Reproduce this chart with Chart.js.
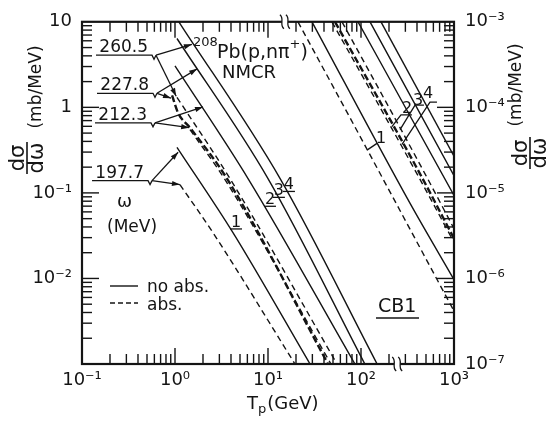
<!DOCTYPE html>
<html>
<head>
<meta charset="utf-8">
<script src="https://cdn.jsdelivr.net/npm/chart.js@4.4.0/dist/chart.umd.min.js"></script>
<style>
  html, body { margin: 0; padding: 0; background: #fff; }
</style>
</head>
<body>
<canvas id="canvas-grafico-omega" width="546" height="423"></canvas>
<script>
const INK = "#141414";
const FAMILY = '"DejaVu Sans", sans-serif';

// axis ticks
const xTicks = [0.1, 1, 10, 100, 1000];
const xTickLabels = ["10⁻¹", "10⁰", "10¹", "10²", "10³"];
const yTicks = [0.001, 0.01, 0.1, 1, 10];
const yTickLabels = ["", "10⁻²", "10⁻¹", "1", "10"];
const y2Ticks = [1e-7, 1e-6, 1e-5, 1e-4, 1e-3];
const y2TickLabels = ["10⁻⁷", "10⁻⁶", "10⁻⁵", "10⁻⁴", "10⁻³"];

// photon energies (MeV), curves 1..4
const omegas = ["197.7", "212.3", "227.8", "260.5"];
const curveNums = ["1", "2", "3", "4"];

// left family: T_p (GeV) -> dσ/dω (mb/MeV), left axis
const tpNoAbs1 = [1.05, 4.2, 28.3];   const dsNoAbs1 = [0.341, 0.0343, 0.001];
const tpNoAbs2 = [1.0, 6.1, 86];      const dsNoAbs2 = [3.05, 0.147, 0.001];
const tpNoAbs3 = [1.05, 10.0, 110];   const dsNoAbs3 = [6.38, 0.147, 0.001];
const tpNoAbs4 = [1.1, 13.5, 149];    const dsNoAbs4 = [10, 0.147, 0.001];
const tpAbs1 = [1.13, 2.56, 19.5];    const dsAbs1 = [0.125, 0.0343, 0.001];
const tpAbs2 = [1.45, 3.45, 47.5];    const dsAbs2 = [0.548, 0.143, 0.001];
const tpAbs3 = [0.93, 1.08, 1.45, 3.62, 44.2];
const dsAbs3 = [1.38, 0.86, 0.578, 0.147, 0.001];
const tpAbs4 = [1.05, 3.9, 55.2];     const dsAbs4 = [1.31, 0.147, 0.001];

// right family: right axis (mb/MeV)
const tpNoAbs1R = [29.7, 336, 1000];  const dsNoAbs1R = [1e-3, 7.58e-6, 9.68e-7];
const tpNoAbs2R = [92.9, 1000];       const dsNoAbs2R = [1e-3, 9.35e-6];
const tpNoAbs3R = [125, 1000];        const dsNoAbs3R = [1e-3, 1.59e-5];
const tpNoAbs4R = [164, 1000];        const dsNoAbs4R = [1e-3, 2.69e-5];
const tpAbs1R = [21.0, 116, 1000];    const dsAbs1R = [1e-3, 3.24e-5, 4.16e-7];
const tpAbs2R = [48.7, 410, 975];     const dsAbs2R = [1e-3, 1.59e-5, 2.78e-6];
const tpAbs3R = [52.5, 431, 1000];    const dsAbs3R = [1e-3, 1.67e-5, 2.93e-6];
const tpAbs4R = [62.5, 488, 1000];    const dsAbs4R = [1e-3, 1.67e-5, 3.82e-6];

// ω label leaders (left axis units): notch, arrow to no abs., arrow to abs.
const notchT = [0.513, 0.552, 0.58, 0.566];  const notchY = [0.139, 0.659, 1.46, 4.07];
const upT = [1.08, 2.0, 1.73, 1.52];         const upY = [0.299, 1.01, 2.82, 5.45];
const lowT = [1.13, 1.42, 0.906, 1.03];      const lowY = [0.125, 0.578, 1.28, 1.35];

// curve numbers, left family (left axis) and right family (right axis)
const numT = [4.53, 10.5, 13.1, 16.8];       const numY = [0.047, 0.0865, 0.11, 0.129];
const numTR = [164, 313, 410, 525];          const numYR = [4.45e-5, 1.01e-4, 1.24e-4, 1.53e-4];
const leaderTR = [[148.6, 116], [353, 269, 215], [475, 381, 263], [656, 552, 276]];
const leaderYR = [[3.79e-5, 3.16e-5], [8.15e-5, 8.15e-5, 5.94e-5], [1.06e-4, 1.06e-4, 5.48e-5], [1.15e-4, 1.15e-4, 3.69e-5]];

// axis breaks (T_p, GeV)
const breakTop = 15.2;
const breakBottom = 245;

const font = (size) => size + "px " + FAMILY;

function curve(tp, ds, axis, dash, width) {
  return {
    data: tp.map((t, i) => ({ x: t, y: ds[i] })),
    yAxisID: axis,
    borderColor: INK,
    borderWidth: width || 1.4,
    borderDash: dash || [],
    pointRadius: 0,
    cubicInterpolationMode: "monotone",
    fill: false,
  };
}

const DASH = [6, 4];

const decorations = {
  id: "decorations",
  afterDraw(chart) {
    const ctx = chart.ctx;
    const a = chart.chartArea;
    const sx = chart.scales.x, sy = chart.scales.y, sy2 = chart.scales.y2;
    const P = (t, v) => [sx.getPixelForValue(t), sy.getPixelForValue(v)];
    const P2 = (t, v) => [sx.getPixelForValue(t), sy2.getPixelForValue(v)];
    const line = (x0, y0, x1, y1) => { ctx.beginPath(); ctx.moveTo(x0, y0); ctx.lineTo(x1, y1); ctx.stroke(); };
    const arrow = (x0, y0, x1, y1) => {
      line(x0, y0, x1, y1);
      const ang = Math.atan2(y1 - y0, x1 - x0), L = 8, W = 2.6;
      const c = Math.cos(ang), s = Math.sin(ang);
      ctx.beginPath();
      ctx.moveTo(x1, y1);
      ctx.lineTo(x1 - L * c + W * s, y1 - L * s - W * c);
      ctx.lineTo(x1 - L * c - W * s, y1 - L * s + W * c);
      ctx.closePath();
      ctx.fill();
    };

    ctx.save();
    ctx.strokeStyle = INK;
    ctx.fillStyle = INK;

    // inward ticks
    ctx.lineWidth = 1.4;
    for (let e = -1; e <= 2; e++) {
      for (let m = 1; m <= 9; m++) {
        const px = sx.getPixelForValue(m * Math.pow(10, e));
        const len = m === 1 ? 16 : 10;
        line(px, a.bottom, px, a.bottom - len);
        line(px, a.top, px, a.top + len);
      }
    }
    for (let e = -3; e <= 0; e++) {
      for (let m = 1; m <= 9; m++) {
        const py = sy.getPixelForValue(m * Math.pow(10, e));
        line(a.left, py, a.left + (m === 1 ? 17 : 10), py);
      }
    }
    for (let e = -7; e <= -4; e++) {
      for (let m = 1; m <= 9; m++) {
        const py = sy2.getPixelForValue(m * Math.pow(10, e));
        line(a.right, py, a.right - (m === 1 ? 17 : 10), py);
      }
    }

    // frame
    ctx.lineWidth = 2.2;
    ctx.strokeRect(a.left, a.top, a.right - a.left, a.bottom - a.top);

    // axis breaks
    const brk = (px, py) => {
      ctx.fillStyle = "#fff";
      ctx.fillRect(px - 3, py - 2, 6, 4);
      ctx.fillStyle = INK;
      ctx.lineWidth = 1.3;
      for (const dx of [-3, 3]) {
        ctx.beginPath();
        ctx.moveTo(px + dx - 2, py - 7);
        ctx.bezierCurveTo(px + dx + 3, py - 3, px + dx - 3, py + 3, px + dx + 2, py + 7);
        ctx.stroke();
      }
    };
    brk(sx.getPixelForValue(breakTop), a.top);
    brk(sx.getPixelForValue(breakBottom), a.bottom);

    // ω labels with leaders
    ctx.lineWidth = 1.3;
    ctx.font = font(17);
    ctx.textAlign = "right";
    ctx.textBaseline = "alphabetic";
    omegas.forEach((w, i) => {
      const [nx, ny] = P(notchT[i], notchY[i]);
      ctx.fillText(w, nx - 4, ny - 3);
      ctx.beginPath();
      ctx.moveTo(nx - 56, ny);
      ctx.lineTo(nx, ny);
      ctx.lineTo(nx + 2, ny + 4);
      ctx.lineTo(nx + 4, ny);
      ctx.stroke();
      arrow(nx + 4, ny, ...P(upT[i], upY[i]));
      arrow(nx + 4, ny, ...P(lowT[i], lowY[i]));
    });

    // curve numbers
    ctx.font = font(16);
    ctx.textAlign = "center";
    curveNums.forEach((n, i) => {
      const [px, py] = P(numT[i], numY[i]);
      ctx.fillText(n, px, py + 6);
      line(px - 6, py + 8, px + 6, py + 8);
      const [qx, qy] = P2(numTR[i], numYR[i]);
      ctx.fillText(n, qx, qy + 6);
      const pts = leaderTR[i].map((t, k) => P2(t, leaderYR[i][k]));
      ctx.beginPath();
      pts.forEach((p, k) => (k ? ctx.lineTo(p[0], p[1]) : ctx.moveTo(p[0], p[1])));
      ctx.stroke();
    });

    // reaction label
    ctx.textAlign = "left";
    ctx.font = font(13);
    ctx.fillText("208", 193, 46);
    ctx.font = font(19);
    ctx.fillText("Pb(p,nπ", 217, 58);
    let w = ctx.measureText("Pb(p,nπ").width;
    ctx.font = font(13);
    ctx.fillText("+", 217 + w, 48);
    w += ctx.measureText("+").width;
    ctx.font = font(19);
    ctx.fillText(")", 217 + w, 58);
    ctx.font = font(18);
    ctx.fillText("NMCR", 222, 78);

    // ω unit
    ctx.font = font(18);
    ctx.fillText("ω", 117, 207);
    ctx.font = font(17);
    ctx.fillText("(MeV)", 107, 232);

    // legend
    ctx.lineWidth = 1.4;
    line(110, 286, 138, 286);
    ctx.setLineDash([5, 3]);
    line(110, 303, 138, 303);
    ctx.setLineDash([]);
    ctx.font = font(17);
    ctx.fillText("no abs.", 147, 292);
    ctx.fillText("abs.", 147, 310);

    // CB1
    ctx.font = font(19);
    ctx.fillText("CB1", 378, 312);
    line(376, 318, 419, 318);

    // x title
    ctx.font = font(18);
    ctx.fillText("T", 247, 409);
    let tw = ctx.measureText("T").width;
    ctx.font = font(13);
    ctx.fillText("p", 247 + tw, 413);
    tw += ctx.measureText("p").width;
    ctx.font = font(18);
    ctx.fillText("(GeV)", 247 + tw + 1, 409);

    // y titles (rotated)
    const vtext = (txt, cx, cy, f) => {
      ctx.save();
      ctx.translate(cx, cy);
      ctx.rotate(-Math.PI / 2);
      ctx.font = f;
      ctx.textAlign = "center";
      ctx.textBaseline = "middle";
      ctx.fillText(txt, 0, 0);
      ctx.restore();
    };
    const vfrac = (cx, cy) => {
      ctx.save();
      ctx.translate(cx, cy);
      ctx.rotate(-Math.PI / 2);
      ctx.font = font(21);
      ctx.textAlign = "center";
      ctx.textBaseline = "alphabetic";
      ctx.fillText("dσ", 0, -3);
      ctx.fillText("dω", 0, 16);
      ctx.lineWidth = 1.6;
      line(-16, 0, 16, 0);
      ctx.restore();
    };
    vfrac(27, 158);
    vtext("(mb/MeV)", 37, 87, font(17));
    vfrac(530, 153);
    vtext("(mb/MeV)", 517, 85, font(17));

    ctx.restore();
  },
};

new Chart(document.getElementById("canvas-grafico-omega"), {
  type: "line",
  plugins: [decorations],
  data: {
    datasets: [
      curve(tpNoAbs1, dsNoAbs1, "y"),
      curve(tpNoAbs2, dsNoAbs2, "y"),
      curve(tpNoAbs3, dsNoAbs3, "y"),
      curve(tpNoAbs4, dsNoAbs4, "y"),
      curve(tpAbs1, dsAbs1, "y", DASH),
      curve(tpAbs2, dsAbs2, "y", DASH),
      curve(tpAbs3, dsAbs3, "y", [7, 3], 2.4),
      curve(tpAbs4, dsAbs4, "y", DASH),
      curve(tpNoAbs1R, dsNoAbs1R, "y2"),
      curve(tpNoAbs2R, dsNoAbs2R, "y2"),
      curve(tpNoAbs3R, dsNoAbs3R, "y2"),
      curve(tpNoAbs4R, dsNoAbs4R, "y2"),
      curve(tpAbs1R, dsAbs1R, "y2", DASH),
      curve(tpAbs2R, dsAbs2R, "y2", DASH),
      curve(tpAbs3R, dsAbs3R, "y2", [7, 3], 2.4),
      curve(tpAbs4R, dsAbs4R, "y2", DASH),
    ],
  },
  options: {
    responsive: false,
    animation: false,
    devicePixelRatio: 1,
    layout: { padding: { top: 15 } },
    plugins: {
      legend: { display: false },
      tooltip: { enabled: false },
    },
    scales: {
      x: {
        type: "logarithmic",
        position: "bottom",
        min: 0.1,
        max: 1000,
        afterBuildTicks: (s) => { s.ticks = xTicks.map((v) => ({ value: v })); },
        afterFit: (s) => { s.height = 59; },
        grid: { display: false, drawTicks: false },
        border: { display: false },
        ticks: {
          autoSkip: false,
          maxRotation: 0,
          padding: 6,
          color: INK,
          font: { family: FAMILY, size: 18 },
          callback: (v, i) => xTickLabels[i],
        },
      },
      y: {
        type: "logarithmic",
        position: "left",
        min: 0.001,
        max: 10,
        afterBuildTicks: (s) => { s.ticks = yTicks.map((v) => ({ value: v })); },
        afterFit: (s) => { s.width = 82; },
        grid: { display: false, drawTicks: false },
        border: { display: false },
        ticks: {
          padding: 10,
          color: INK,
          font: { family: FAMILY, size: 18 },
          callback: (v, i) => yTickLabels[i],
        },
      },
      y2: {
        type: "logarithmic",
        position: "right",
        min: 1e-7,
        max: 1e-3,
        afterBuildTicks: (s) => { s.ticks = y2Ticks.map((v) => ({ value: v })); },
        afterFit: (s) => { s.width = 92; },
        grid: { display: false, drawTicks: false },
        border: { display: false },
        ticks: {
          padding: 11,
          color: INK,
          font: { family: FAMILY, size: 18 },
          callback: (v, i) => y2TickLabels[i],
        },
      },
    },
  },
});
</script>
</body>
</html>
